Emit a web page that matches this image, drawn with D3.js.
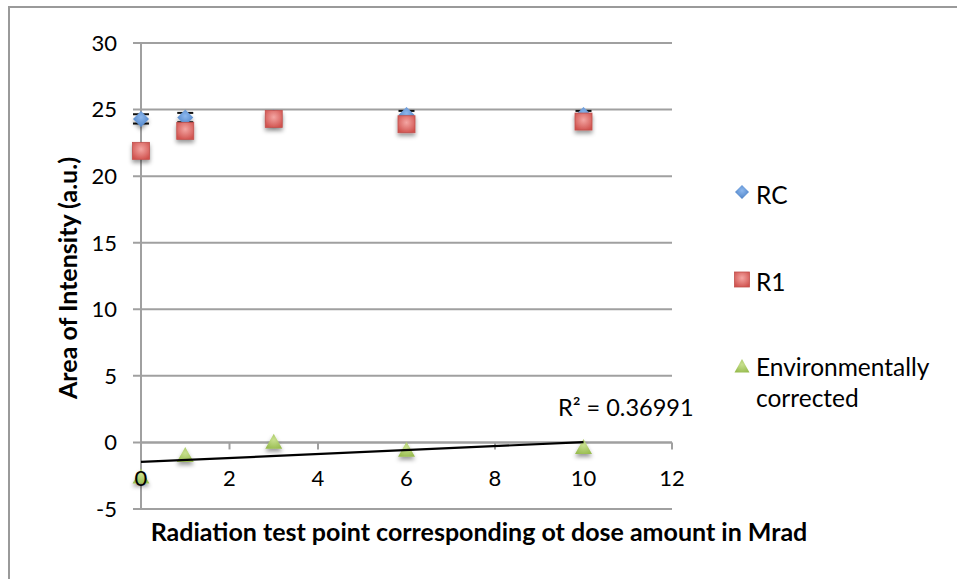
<!DOCTYPE html>
<html>
<head>
<meta charset="utf-8">
<script src="https://cdn.jsdelivr.net/npm/d3@7"></script>
<style>
  html, body { margin: 0; padding: 0; background: #fff; }
  svg { display: block; font-family: Lato, "Open Sans", sans-serif; }
</style>
</head>
<body>
<svg id="chart" width="957" height="579"></svg>
<script>
// ---- data ----
const xValues = [0, 1, 3, 6, 10];
const rcValues = [24.3, 24.4, 24.4, 24.6, 24.6];
const rcErrors = [0.35, 0.35, 0.3, 0.3, 0.3];
const r1Values = [21.9, 23.4, 24.3, 23.9, 24.1];
const envValues = [-2.55, -0.95, 0.05, -0.55, -0.35];
const xTicks = [0, 2, 4, 6, 8, 10, 12];
const yTicks = [-5, 0, 5, 10, 15, 20, 25, 30];
const seriesNames = ["RC", "R1", "Environmentally corrected"];
const rSquaredLabel = "R² = 0.36991";
const xTitle = "Radiation test point corresponding ot dose amount in Mrad";
const yTitle = "Area of Intensity (a.u.)";

const svg = d3.select("#chart");
const W = 957, H = 579;
const plot = { left: 141, right: 672, top: 43, bottom: 509 };

const x = d3.scaleLinear().domain([0, 12]).range([plot.left, plot.right]);
const y = d3.scaleLinear().domain([-5, 30]).range([plot.bottom, plot.top]);

// defs: shadow + gradients
const defs = svg.append("defs");
const f = defs.append("filter").attr("id", "shadow").attr("x", "-60%").attr("y", "-60%").attr("width", "220%").attr("height", "220%");
f.append("feDropShadow").attr("dx", 0).attr("dy", 3).attr("stdDeviation", 2.2).attr("flood-color", "#000").attr("flood-opacity", 0.4);
function grad(id, c1, c2) {
  const g = defs.append("radialGradient").attr("id", id).attr("cx", "50%").attr("cy", "40%").attr("r", "65%");
  g.append("stop").attr("offset", "0%").attr("stop-color", c1);
  g.append("stop").attr("offset", "100%").attr("stop-color", c2);
}
grad("gBlue", "#8db8ee", "#4a7fc4");
grad("gRed", "#f4a6a3", "#d0524e");
grad("gGreen", "#c8e08f", "#98bc4f");

// outer border
svg.append("path").attr("d", `M9,${H} L9,7 L${W},7`).attr("fill", "none").attr("stroke", "#9a9a9a").attr("stroke-width", 2);

// horizontal gridlines (with left ticks)
svg.append("g").selectAll("line").data(yTicks).join("line")
  .attr("x1", plot.left - 8).attr("x2", plot.right)
  .attr("y1", d => y(d)).attr("y2", d => y(d))
  .attr("stroke", "#a0a0a0").attr("stroke-width", 2);

// y axis line
svg.append("line").attr("x1", x(0)).attr("x2", x(0)).attr("y1", y(30)).attr("y2", y(-5))
  .attr("stroke", "#a0a0a0").attr("stroke-width", 2);

// x axis line at 0 + ticks
svg.append("line").attr("x1", x(0)).attr("x2", x(12)).attr("y1", y(0)).attr("y2", y(0))
  .attr("stroke", "#a0a0a0").attr("stroke-width", 2);
svg.append("g").selectAll("line").data(xTicks.filter(d => d !== 0)).join("line")
  .attr("x1", d => x(d)).attr("x2", d => x(d)).attr("y1", y(0)).attr("y2", y(0) + 7)
  .attr("stroke", "#a0a0a0").attr("stroke-width", 2);

// y tick labels
svg.append("g").selectAll("text").data(yTicks).join("text")
  .attr("x", 117).attr("y", d => y(d)).attr("dy", "0.36em")
  .attr("text-anchor", "end").attr("font-size", 22).attr("fill", "#000")
  .text(d => d);

// trendline (least squares on environmentally corrected series)
const mx = d3.mean(xValues), my = d3.mean(envValues);
const sxy = d3.sum(xValues, (d, i) => (d - mx) * (envValues[i] - my));
const sxx = d3.sum(xValues, d => (d - mx) * (d - mx));
const slope = sxy / sxx, intercept = my - slope * mx;
const xMin = d3.min(xValues), xMax = d3.max(xValues);

// env triangles
svg.append("g").selectAll("path").data(xValues).join("path")
  .attr("transform", (d, i) => `translate(${x(d)},${y(envValues[i])})`)
  .attr("d", "M0,-8 L8.5,7 L-8.5,7 Z")
  .attr("fill", "url(#gGreen)").attr("filter", "url(#shadow)");

svg.append("line")
  .attr("x1", x(xMin)).attr("y1", y(intercept + slope * xMin))
  .attr("x2", x(xMax)).attr("y2", y(intercept + slope * xMax))
  .attr("stroke", "#000").attr("stroke-width", 2.2);

// RC error bars
const gErr = svg.append("g").attr("stroke", "#111").attr("stroke-width", 2);
xValues.forEach((d, i) => {
  const cx = x(d);
  [rcValues[i] - rcErrors[i], rcValues[i] + rcErrors[i]].forEach(v => {
    gErr.append("line").attr("x1", cx - 8).attr("x2", cx + 8).attr("y1", y(v)).attr("y2", y(v));
  });
});

// RC diamonds
svg.append("g").selectAll("path").data(xValues).join("path")
  .attr("transform", (d, i) => `translate(${x(d)},${y(rcValues[i])})`)
  .attr("d", "M0,-8 L8,0 L0,8 L-8,0 Z")
  .attr("fill", "url(#gBlue)").attr("filter", "url(#shadow)");

// R1 squares
svg.append("g").selectAll("rect").data(xValues).join("rect")
  .attr("x", d => x(d) - 8.5).attr("y", (d, i) => y(r1Values[i]) - 8.5)
  .attr("width", 17).attr("height", 17)
  .attr("fill", "url(#gRed)").attr("stroke", "#c0504d").attr("stroke-width", 0.8)
  .attr("filter", "url(#shadow)");

// x tick labels
svg.append("g").selectAll("text").data(xTicks).join("text")
  .attr("x", d => x(d)).attr("y", 478).attr("dy", "0.36em")
  .attr("text-anchor", "middle").attr("font-size", 22).attr("fill", "#000")
  .text(d => d);

// R squared label
svg.append("text").attr("x", 558).attr("y", 408).attr("dy", "0.36em")
  .attr("font-size", 23.5).attr("fill", "#000").text(rSquaredLabel);

// axis titles
svg.append("text").attr("x", 479).attr("y", 532).attr("dy", "0.36em")
  .attr("text-anchor", "middle").attr("font-size", 25).attr("font-weight", "bold")
  .attr("fill", "#000").text(xTitle);
svg.append("text").attr("transform", `translate(68,${(plot.top + plot.bottom) / 2 + 2}) rotate(-90)`)
  .attr("dy", "0.36em").attr("text-anchor", "middle").attr("font-size", 25)
  .attr("font-weight", "bold").attr("fill", "#000").text(yTitle);

// legend
const leg = svg.append("g");
const lx = 742, ltx = 756;
leg.append("path").attr("transform", `translate(${lx},192)`).attr("d", "M0,-7 L7,0 L0,7 L-7,0 Z").attr("fill", "url(#gBlue)");
leg.append("rect").attr("x", lx - 7.5).attr("y", 272).attr("width", 15).attr("height", 15).attr("fill", "url(#gRed)").attr("stroke", "#c0504d").attr("stroke-width", 0.8);
leg.append("path").attr("transform", `translate(${lx},366)`).attr("d", "M0,-7 L7.5,6.5 L-7.5,6.5 Z").attr("fill", "url(#gGreen)");
leg.append("text").attr("x", ltx).attr("y", 195).attr("dy", "0.36em").attr("font-size", 24.5).text(seriesNames[0]);
leg.append("text").attr("x", ltx).attr("y", 282).attr("dy", "0.36em").attr("font-size", 24.5).text(seriesNames[1]);
const envWords = seriesNames[2].split(" ");
leg.append("text").attr("x", ltx).attr("y", 367).attr("dy", "0.36em").attr("font-size", 24.5).text(envWords[0]);
leg.append("text").attr("x", ltx).attr("y", 398).attr("dy", "0.36em").attr("font-size", 24.5).text(envWords[1]);
</script>
</body>
</html>
